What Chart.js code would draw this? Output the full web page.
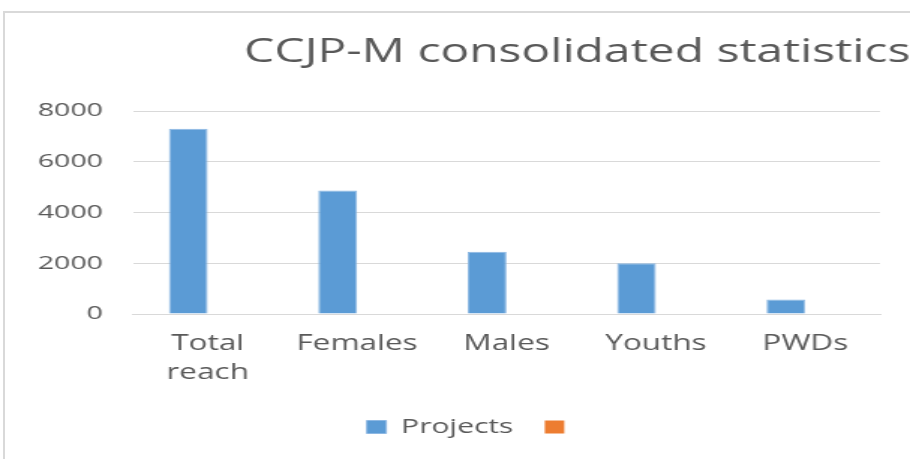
<!DOCTYPE html>
<html>
<head>
<meta charset="utf-8">
<script src="https://cdn.jsdelivr.net/npm/chart.js@4/dist/chart.umd.min.js"></script>
<style>
  body { margin: 0; background: #fff; overflow: hidden; }
  #marco { position: absolute; left: 3px; top: 11px; width: 920px; height: 460px;
           border-top: 2px solid #d9d9d9; border-left: 2px solid #d9d9d9; }
  #grafico { position: absolute; left: 0; top: 0; }
</style>
</head>
<body>
<div id="marco"></div>
<!-- el original está estirado a lo ancho: dibujamos a 607px y lo estiramos a 910px -->
<canvas id="grafico" width="607" height="459" style="width:910px;height:459px"></canvas>
<script>
// Datos
const categorias = [["Total", "reach"], "Females", "Males", "Youths", "PWDs"];
const proyectos = [7300, 4870, 2450, 2000, 570];
const serieVacia = [null, null, null, null, null];
const ticksY = [0, 2000, 4000, 6000, 8000];

const titulo = "CCJP-M consolidated statistics";
const gris = "#595959";
const fuente = "'Open Sans', 'Liberation Sans', sans-serif";

// Título dibujado a mano (en el original no está centrado sobre el área)
// y la leyenda corrida un poco a la derecha, como en el original
const tituloPlugin = {
  id: "tituloPlugin",
  afterLayout(chart) {
    chart.legend.left += 11;
    chart.legend.right += 11;
  },
  afterDraw(chart) {
    const ctx = chart.ctx;
    ctx.save();
    ctx.font = `32px ${fuente}`;
    ctx.fillStyle = gris;
    ctx.textAlign = "center";
    ctx.textBaseline = "middle";
    ctx.fillText(titulo, 385, 53);
    ctx.restore();
  }
};

new Chart(document.getElementById("grafico"), {
  type: "bar",
  data: {
    labels: categorias,
    datasets: [
      {
        label: "Projects",
        data: proyectos,
        backgroundColor: "#5b9bd5",
        borderColor: "#8db8e3",
        borderWidth: 1,
        categoryPercentage: 0.52,
        barPercentage: 1
      },
      {
        label: "",
        data: serieVacia,
        backgroundColor: "#ed7d31",
        borderColor: "#ed7d31",
        borderWidth: 0,
        categoryPercentage: 0.52,
        barPercentage: 1
      }
    ]
  },
  options: {
    responsive: false,
    animation: false,
    layout: { padding: { left: 22, right: 20, top: 111, bottom: 12 } },
    plugins: {
      title: { display: false },
      tooltip: { enabled: false },
      legend: {
        position: "bottom",
        labels: {
          boxWidth: 13,
          boxHeight: 13,
          padding: 21,
          color: gris,
          font: { family: fuente, size: 20 }
        }
      }
    },
    scales: {
      x: {
        grid: { display: false, drawTicks: false },
        border: { display: true, color: "#d9d9d9", width: 1 },
        ticks: {
          color: gris,
          padding: 15,
          maxRotation: 0,
          autoSkip: false,
          font: { family: fuente, size: 21, lineHeight: 1.4 }
        },
        afterFit(scale) { scale.height = 82; }
      },
      y: {
        min: 0,
        max: 8000,
        grid: { color: "#d9d9d9", lineWidth: 1, drawTicks: false },
        border: { display: false },
        afterBuildTicks(scale) { scale.ticks = ticksY.map(v => ({ value: v })); },
        ticks: {
          color: gris,
          padding: 20,
          font: { family: fuente, size: 19 },
          callback: v => String(v)
        },
        afterFit(scale) { scale.width = 66.7; }
      }
    }
  },
  plugins: [tituloPlugin]
});
</script>
</body>
</html>
